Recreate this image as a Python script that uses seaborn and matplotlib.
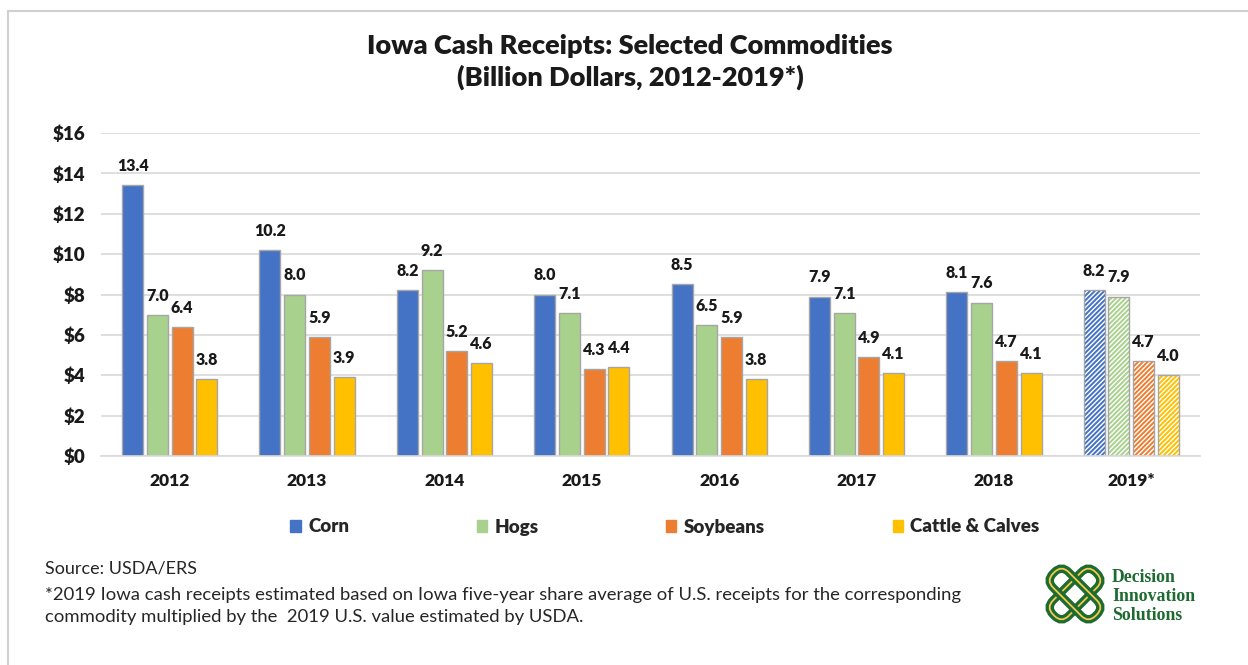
import numpy as np
import pandas as pd
import matplotlib
matplotlib.use("Agg")
import matplotlib.pyplot as plt
from matplotlib.patches import Rectangle, FancyBboxPatch
from matplotlib.lines import Line2D
import matplotlib.transforms as mtransforms
import seaborn as sns

# ---- data (billion dollars) ----
years = ["2012", "2013", "2014", "2015", "2016", "2017", "2018", "2019*"]
commodities = ["Corn", "Hogs", "Soybeans", "Cattle & Calves"]
corn = [13.4, 10.2, 8.2, 8.0, 8.5, 7.9, 8.1, 8.2]
hogs = [7.0, 8.0, 9.2, 7.1, 6.5, 7.1, 7.6, 7.9]
soybeans = [6.4, 5.9, 5.2, 4.3, 5.9, 4.9, 4.7, 4.7]
cattle = [3.8, 3.9, 4.6, 4.4, 3.8, 4.1, 4.1, 4.0]
estimated_year = "2019*"

colors = ["#4472C4", "#A9D18E", "#ED7D31", "#FFC000"]
y_ticks = [0, 2, 4, 6, 8, 10, 12, 14, 16]

title = "Iowa Cash Receipts: Selected Commodities\n(Billion Dollars, 2012-2019*)"
source_note = "Source: USDA/ERS"
footnote = ("*2019 Iowa cash receipts estimated based on Iowa five-year share average of U.S. receipts for the corresponding\n"
            "commodity multiplied by the  2019 U.S. value estimated by USDA.")
logo_words = ["Decision", "Innovation", "Solutions"]

df = pd.DataFrame({
    "year": np.repeat(years, len(commodities)),
    "commodity": commodities * len(years),
    "value": np.ravel(np.column_stack([corn, hogs, soybeans, cattle])),
})

sns.set_theme(style="white")
plt.rcParams["font.family"] = ["Lato", "DejaVu Sans"]
plt.rcParams["hatch.linewidth"] = 1.4

W, H = 1248, 665
fig = plt.figure(figsize=(W / 100, H / 100), dpi=100)
fig.patch.set_facecolor("white")
ax = fig.add_axes([101 / W, 1 - 456 / H, (1200 - 101) / W, (456 - 133) / H])

sns.barplot(data=df, x="year", y="value", hue="commodity", order=years,
            hue_order=commodities, palette=colors, width=0.72, gap=0.15,
            edgecolor="#a6a6a6", linewidth=1.0, saturation=1, ax=ax)

grid_c = "#d9d9d9"
ax.set_ylim(0, 16)
ax.set_xlim(-0.5, len(years) - 0.5)
ax.set_yticks(y_ticks)
ax.set_yticklabels([f"${v}" for v in y_ticks])
ax.yaxis.grid(True, color=grid_c, linewidth=1.2)
ax.set_axisbelow(True)
for s in ["top", "right", "left"]:
    ax.spines[s].set_visible(False)
ax.spines["bottom"].set_color(grid_c)
ax.spines["bottom"].set_linewidth(1.2)
ax.set_xlabel("")
ax.set_ylabel("")
ax.tick_params(axis="both", length=0)
ax.tick_params(axis="y", pad=11, labelsize=13.5)
ax.tick_params(axis="x", pad=12, labelsize=12.5)
for t in ax.get_xticklabels() + ax.get_yticklabels():
    t.set_fontweight("heavy")
    t.set_color("#1a1a1a")

# estimated year: hatched fill in the series colour
est_idx = years.index(estimated_year)
for cont, col in zip(ax.containers, colors):
    bar = cont.patches[est_idx]
    bar.set_facecolor("white")
    bar.set_edgecolor(col)
    bar.set_hatch("///////")
    bar.set_linewidth(0)
    ax.add_patch(Rectangle(bar.get_xy(), bar.get_width(), bar.get_height(),
                           fill=False, edgecolor="#a6a6a6", linewidth=1.0, zorder=bar.get_zorder() + 0.1))
    ax.bar_label(cont, fmt="%.1f", padding=8, fontsize=11.5, fontweight="heavy", color="#1a1a1a")

handles, labels = ax.get_legend_handles_labels()
ax.get_legend().remove()
for h, col in zip(handles, colors):
    h.set_edgecolor(col)
fig.legend(handles, labels, loc="center", bbox_to_anchor=(665 / W, 1 - 527 / H), ncol=4,
           frameon=False, handlelength=0.55, handleheight=0.55, handletextpad=0.4,
           columnspacing=6.8, prop={"weight": "heavy", "size": 13.5})

fig.text(630 / W, 1 - 62 / H, title, ha="center", va="center", fontsize=19.5,
         fontweight="heavy", color="#1a1a1a", linespacing=1.3)
fig.text(45 / W, 1 - 568 / H, source_note, ha="left", va="center", fontsize=13, color="#262626")
fig.text(45 / W, 1 - 606 / H, footnote, ha="left", va="center", fontsize=13.3, color="#262626",
         linespacing=1.4)

# outer frame
frame_c = "#d0d0d0"
fig.add_artist(Line2D([8 / W, 8 / W], [0, 1 - 11 / H], color=frame_c, lw=1.5, transform=fig.transFigure))
fig.add_artist(Line2D([8 / W, 1], [1 - 11 / H, 1 - 11 / H], color=frame_c, lw=1.5, transform=fig.transFigure))

# logo mark: two interlaced rounded loops
green = "#1E6B31"
gold = "#F2C94C"
cx, cy = 1075, 594
for ang in (45, -45):
    tr = mtransforms.Affine2D().rotate_deg_around(cx, H - cy, ang) + mtransforms.IdentityTransform()
    for lw, col in ((6, green), (1.3, gold)):
        box = FancyBboxPatch((cx - 30, H - cy - 11), 60, 22,
                             boxstyle="round,pad=0,rounding_size=10",
                             fill=False, edgecolor=col, linewidth=lw, transform=tr)
        fig.add_artist(box)

for i, w in enumerate(logo_words):
    fig.text(1112 / W, 1 - (577 + 19.5 * i) / H, w, ha="left", va="center",
             fontsize=12.8, fontweight="bold", color=green, family=["Liberation Serif"])

fig.savefig("out.png", dpi=100, facecolor="white")
